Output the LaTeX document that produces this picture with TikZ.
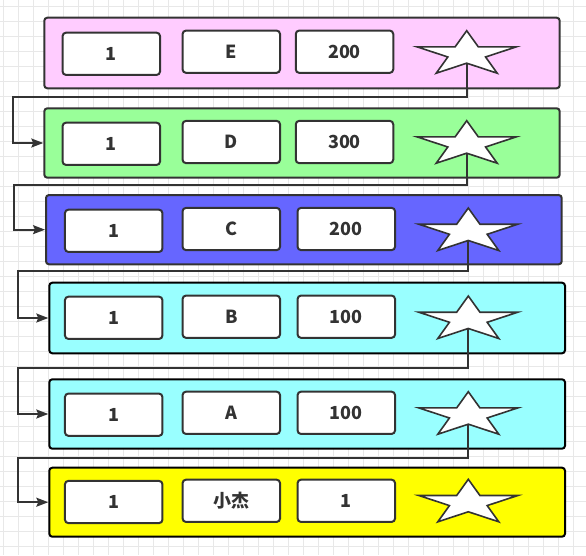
\documentclass[tikz,border=0pt]{standalone}
\usepackage{fontspec}
\setmainfont{Noto Sans CJK SC}
\usetikzlibrary{arrows.meta}
\definecolor{ink}{HTML}{333333}
\definecolor{gridc}{HTML}{E8E8E8}
\definecolor{cpink}{HTML}{FFCCFF}
\definecolor{cgreen}{HTML}{99FF99}
\definecolor{cblue}{HTML}{6666FF}
\definecolor{ccyan}{HTML}{99FFFF}
\definecolor{cyellow}{HTML}{FFFF00}
\tikzset{
  rowbox/.style={draw=ink, line width=2pt, rounded corners=3pt, anchor=north west, inner sep=0pt},
  cell/.style={draw=ink, fill=white, line width=2pt, rounded corners=3.5pt, minimum width=97.5pt, minimum height=42.3pt, inner sep=0pt, text=ink, font=\fontsize{18}{18}\selectfont\bfseries},
  starshape/.style={draw=ink, fill=white, line width=1.6pt, line join=miter},
  link/.style={draw=ink, line width=1.8pt, -{Stealth[length=12pt,width=9pt,inset=2pt]}},
}
\begin{document}
\begin{tikzpicture}[x=1pt,y=-1pt]
\useasboundingbox (0,0) rectangle (586,555);
\fill[white] (0,0) rectangle (586,555);
% grid
\foreach \i in {0,...,38} {\draw[gridc, line width=0.8pt] ({3.3+15*\i},0) -- ({3.3+15*\i},555);}
\foreach \j in {0,...,36} {\draw[gridc, line width=0.8pt] (0,{6.7+15*\j}) -- (586,{6.7+15*\j});}
% rows
\node[rowbox, fill=cpink, minimum width=515.4pt, minimum height=70.6pt] (r1) at (43.3,16.7) {};
\node[rowbox, fill=cgreen, minimum width=515.4pt, minimum height=69.4pt] (r2) at (43.3,107.3) {};
\node[rowbox, fill=cblue, minimum width=515.7pt, minimum height=69.3pt] (r3) at (45,194) {};
\node[rowbox, draw=black, fill=ccyan, minimum width=515.7pt, minimum height=70.6pt] (r4) at (48.3,281.7) {};
\node[rowbox, draw=black, fill=ccyan, minimum width=515.7pt, minimum height=69.4pt] (r5) at (48.3,378.3) {};
\node[rowbox, draw=black, fill=cyellow, minimum width=515.7pt, minimum height=69pt] (r6) at (48.3,466.7) {};
% cells
\node[cell] (a1) at (111.3,53.8) {1};
\node[cell] (b1) at (231.3,51.7) {E};
\node[cell] (c1) at (344.5,51.7) {200};
\node[cell] (a2) at (111.3,143.8) {1};
\node[cell] (b2) at (231.3,142) {D};
\node[cell] (c2) at (344.5,142) {300};
\node[cell] (a3) at (113.7,230.8) {1};
\node[cell] (b3) at (231.3,229) {C};
\node[cell] (c3) at (346.3,229) {200};
\node[cell] (a4) at (113.7,317.8) {1};
\node[cell] (b4) at (231.3,316.7) {B};
\node[cell] (c4) at (346.3,316.7) {100};
\node[cell] (a5) at (113.7,414.7) {1};
\node[cell] (b5) at (231.3,412.8) {A};
\node[cell] (c5) at (346.3,412.8) {100};
\node[cell] (a6) at (113.7,502) {1};
\node[cell] (b6) at (231.3,500.8) {小杰};
\node[cell] (c6) at (346.3,500.8) {1};
% stars
\foreach \n/\cx/\cy in {1/466.7/54.2, 2/466.7/144.2, 3/468.3/231.5, 4/468.3/319.5, 5/468.3/415.2, 6/468.3/502.8} {
  \begin{scope}[shift={(\cx,\cy)}, x=51.9pt, y=23.5pt]
    \draw[starshape] (90:1) -- (126:0.382) -- (162:1) -- (198:0.382) -- (234:1) -- (270:0.382)
      -- (306:1) -- (342:0.382) -- (18:1) -- (54:0.382) -- cycle;
    \coordinate (s\n) at (270:0.382);
  \end{scope}
}
% turning points
\coordinate (k1) at (12.7,96.7);
\coordinate (k2) at (14.3,185);
\coordinate (k3) at (17.7,271);
\coordinate (k4) at (17.7,367.7);
\coordinate (k5) at (17.7,458.3);
% connectors
\draw[link] (s1) |- (k1) |- (r2.west);
\draw[link] (s2) |- (k2) |- (r3.west);
\draw[link] (s3) |- (k3) |- (r4.west);
\draw[link] (s4) |- (k4) |- (r5.west);
\draw[link] (s5) |- (k5) |- (r6.west);
\end{tikzpicture}
\end{document}
